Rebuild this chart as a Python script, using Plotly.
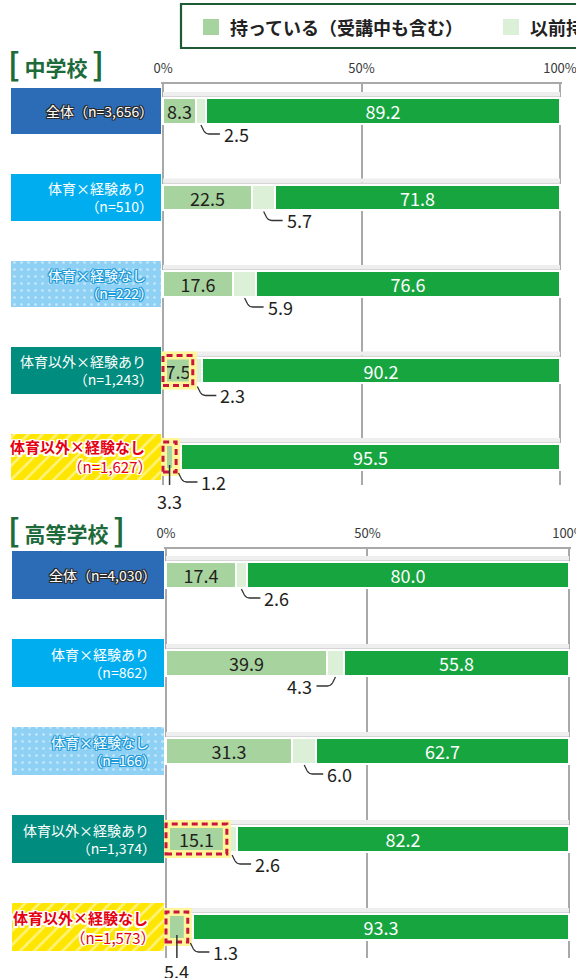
import plotly.graph_objects as go

# ---------------- data ----------------
series_names = ["持っている（受講中も含む）", "以前持っていた", "持っていない"]
groups = ["全体", "体育×経験あり", "体育×経験なし", "体育以外×経験あり", "体育以外×経験なし"]
panel_titles = ["中学校", "高等学校"]

jhs_n = ["3,656", "510", "222", "1,243", "1,627"]
jhs_have = [8.3, 22.5, 17.6, 7.5, 3.3]
jhs_before = [2.5, 5.7, 5.9, 2.3, 1.2]
jhs_never = [89.2, 71.8, 76.6, 90.2, 95.5]

hs_n = ["4,030", "862", "166", "1,374", "1,573"]
hs_have = [17.4, 39.9, 31.3, 15.1, 5.4]
hs_before = [2.6, 4.3, 6.0, 2.6, 1.3]
hs_never = [80.0, 55.8, 62.7, 82.2, 93.3]

x_ticks = [0, 50, 100]
x_tick_labels = ["0%", "50%", "100%"]

# ---------------- style ----------------
W, H = 576, 978
FONT = "Noto Sans CJK JP"
C_SERIES = ["#a7d49e", "#dcefd7", "#17a53f"]
C_TEXT = "#231f20"
GRID = "#a9a9a9"
TITLE_GREEN = "#1d6a3a"
box_colors = ["#2c6cb6", "#00aeef", "#8fd1f5", "#008c7e", "#ffe600"]
box_patterns = ["", "", ".", "", "/"]
box_pat_size = [8, 8, 7, 8, 10]
box_pat_solid = [0.2, 0.2, 0.12, 0.2, 0.25]
label_colors = ["white", "white", "white", "white", "#e50012"]
highlight = [False, False, False, True, True]
seg2_side = [["r", "r", "r", "r", "r"], ["r", "l", "r", "r", "r"]]


def outline(c, w=1):
    offs = [(w, 0), (-w, 0), (0, w), (0, -w), (w, w), (-w, -w), (w, -w), (-w, w)]
    return ", ".join(f"{dx}px {dy}px 0 {c}" for dx, dy in offs)


label_shadows = [outline("#2a2a2a"), "none", outline("#1d9ad8"), "none", outline("white", 1.5)]

panels = [
    dict(n=jhs_n, vals=[jhs_have, jhs_before, jhs_never], xd=(163, 560), yd=(84, 485),
         c0=111, c4=457, title_y=62, boxx=(11, 161), xa="x", ya="y", xl="x3"),
    dict(n=hs_n, vals=[hs_have, hs_before, hs_never], xd=(166, 569), yd=(549, 958),
         c0=575, c4=927, title_y=528, boxx=(12, 164), xa="x2", ya="y2", xl="x4"),
]


def fx(p):
    return p / W


def fy(p):
    return 1 - p / H


fig = go.Figure()
layout_axes = {}
shapes = []
annotations = []
HB = 13  # half bar height in px
PAD = 0.5  # small range padding so edge grid lines are drawn

for k, p in enumerate(panels):
    cats = [f"{g}（n={n}）" for g, n in zip(groups, p["n"])]
    have, before, never = p["vals"]
    spacing = (p["c4"] - p["c0"]) / 4
    r_top = (p["yd"][0] - p["c0"]) / spacing
    r_bot = (p["yd"][1] - p["c0"]) / spacing
    xa, ya, xl = p["xa"], p["ya"], p["xl"]
    xkey = "xaxis" if xa == "x" else "xaxis" + xa[1:]
    ykey = "yaxis" if ya == "y" else "yaxis" + ya[1:]
    xlkey = "xaxis" + xl[1:]
    px_per = (p["xd"][1] - p["xd"][0]) / 100.0
    pad_px = PAD * px_per

    # label boxes (one bar per row on their own x axis)
    for i, c in enumerate(cats):
        pat = dict(shape=box_patterns[i]) if box_patterns[i] == "" else dict(
            shape=box_patterns[i], fgcolor="white", bgcolor=box_colors[i],
            size=box_pat_size[i], solidity=box_pat_solid[i], fillmode="overlay")
        fig.add_trace(go.Bar(
            y=[c], x=[1], base=0, orientation="h", width=0.54,
            marker=dict(color=box_colors[i], line=dict(width=0), pattern=pat),
            xaxis=xl, yaxis=ya, showlegend=False, hoverinfo="skip"))

    # stacked data bars
    texts = [
        [f"{v:.1f}" if v >= 6 else "" for v in have],
        ["" for v in before],
        [f"{v:.1f}" for v in never],
    ]
    tcolors = [C_TEXT, C_TEXT, "white"]
    for name, vals, col, txt, tc in zip(series_names, p["vals"], C_SERIES, texts, tcolors):
        fig.add_trace(go.Bar(
            y=cats, x=vals, orientation="h", name=name, width=0.30,
            marker=dict(color=col, line=dict(color="white", width=2)),
            text=txt, textposition="inside", insidetextanchor="middle", textangle=0,
            constraintext="none",
            textfont=dict(size=18, color=tc, family=FONT),
            xaxis=xa, yaxis=ya, showlegend=False, hoverinfo="skip"))

    layout_axes[xkey] = dict(
        domain=[fx(p["xd"][0] - pad_px), fx(p["xd"][1] + pad_px)], range=[-PAD, 100 + PAD],
        anchor=ya, side="top", automargin=False, ticklabeloverflow="allow",
        tickvals=x_ticks, ticktext=x_tick_labels, ticks="", ticklabelstandoff=4,
        tickfont=dict(size=13, color="#3a3a3a", family=FONT),
        showgrid=True, gridcolor=GRID, gridwidth=1.5, zeroline=False,
        showline=True, linecolor=GRID, linewidth=1.5, fixedrange=True)
    layout_axes[ykey] = dict(
        domain=[fy(p["yd"][1]), fy(p["yd"][0])], type="category", automargin=False,
        categoryorder="array", categoryarray=cats, range=[r_bot, r_top],
        showticklabels=False, showgrid=False, zeroline=False, showline=False,
        anchor=xa, fixedrange=True)
    layout_axes[xlkey] = dict(
        domain=[fx(p["boxx"][0]), fx(p["boxx"][1])], range=[0, 1], anchor=ya,
        visible=False, fixedrange=True, automargin=False)

    # panel title
    annotations.append(dict(
        xref="paper", yref="paper", x=fx(6), y=fy(p["title_y"]), xanchor="left", yanchor="middle",
        text=f'<span style="font-size:31px">[</span> {panel_titles[k]} <span style="font-size:31px">]</span>',
        showarrow=False, font=dict(size=21, color=TITLE_GREEN, family=FONT, weight="bold")))

    for i, c in enumerate(cats):
        # row label text
        g, n = groups[i], p["n"][i]
        if i == 0:
            t = f"{g}（n={n}）"
        elif i == 4:
            t = f"<b>{g}</b>\u2002<br>（n={n}）"
        else:
            t = f"{g}\u2002<br>（n={n}）"
        annotations.append(dict(
            xref="paper", yref=ya, x=fx(p["boxx"][1] - 6), y=c, xanchor="right", yanchor="middle",
            text=t, align="right", showarrow=False,
            font=dict(size=14 if i < 4 else 15, color=label_colors[i], family=FONT,
                      shadow=label_shadows[i])))

        # soft shadow above each bar
        shapes.append(dict(type="rect", xref=xa, yref=ya, x0=0, x1=100, ysizemode="pixel",
                           yanchor=c, y0=HB, y1=HB + 2, fillcolor="#d6d6d6", line_width=0, layer="between"))
        shapes.append(dict(type="rect", xref=xa, yref=ya, x0=0, x1=100, ysizemode="pixel",
                           yanchor=c, y0=HB + 2, y1=HB + 6, fillcolor="#eeeeee", line_width=0, layer="between"))

        extra = 2 if highlight[i] else 0
        # highlight dashed box around first segment
        if highlight[i]:
            shapes.append(dict(type="rect", xref=xa, yref=ya, x0=0, x1=have[i], ysizemode="pixel",
                               yanchor=c, y0=-HB - 2, y1=HB + 2, fillcolor="rgba(0,0,0,0)",
                               line=dict(color="#fff59a", width=8), layer="above"))
            shapes.append(dict(type="rect", xref=xa, yref=ya, x0=0, x1=have[i], ysizemode="pixel",
                               yanchor=c, y0=-HB - 2, y1=HB + 2, fillcolor="rgba(0,0,0,0)",
                               line=dict(color="#c8163f", width=3, dash="6px,4px"), layer="above"))

        # small first segment label below
        if have[i] < 6:
            xc = have[i] / 2
            shapes.append(dict(type="line", xref=xa, yref=ya, xsizemode="pixel", xanchor=xc,
                               ysizemode="pixel", yanchor=c, x0=0, x1=0, y0=-HB + 5, y1=-HB - 22,
                               line=dict(color="#333", width=1.5), layer="above"))
            annotations.append(dict(xref=xa, yref=ya, x=xc, y=c, yshift=-(HB + 31),
                                    xanchor="center", yanchor="middle", text=f"{have[i]:.1f}",
                                    showarrow=False, font=dict(size=18, color=C_TEXT, family=FONT)))

        # second segment label with leader line
        xc = have[i] + before[i] / 2
        d = HB + 10 + extra
        s = 1 if seg2_side[k][i] == "r" else -1
        path = (f"M 0,{-HB - 1 - extra} L {3 * s},{-d + 3} Q {5 * s},{-d} {8 * s},{-d} "
                f"L {19 * s},{-d}")
        shapes.append(dict(type="path", xref=xa, yref=ya, xsizemode="pixel", xanchor=xc,
                           ysizemode="pixel", yanchor=c, path=path,
                           line=dict(color="#333", width=1.3), layer="above"))
        annotations.append(dict(xref=xa, yref=ya, x=xc, y=c, xshift=21 * s, yshift=-d,
                                xanchor="left" if s == 1 else "right", yanchor="middle",
                                text=f"{before[i]:.1f}", showarrow=False,
                                font=dict(size=18, color=C_TEXT, family=FONT)))

# ---------------- legend (drawn, partly beyond the right edge) ----------------
shapes.append(dict(type="rect", xref="paper", yref="paper", x0=fx(181), x1=fx(700),
                   y0=fy(48), y1=fy(4), fillcolor="white", line=dict(color="#1e5b35", width=2.2)))
legend_x = [203, 503, 770]
for name, col, lx in zip(series_names, C_SERIES, legend_x):
    shapes.append(dict(type="rect", xref="paper", yref="paper", x0=fx(lx), x1=fx(lx + 16),
                       y0=fy(35), y1=fy(19), fillcolor=col, line_width=0))
    annotations.append(dict(xref="paper", yref="paper", x=fx(lx + 25), y=fy(27), xanchor="left",
                            yanchor="middle", text=name, showarrow=False,
                            font=dict(size=18, color="#222", family=FONT, weight="bold")))

fig.update_layout(
    width=W, height=H, margin=dict(l=0, r=0, t=0, b=0, autoexpand=False),
    paper_bgcolor="white", plot_bgcolor="rgba(0,0,0,0)",
    barmode="stack", bargap=0, showlegend=False,
    font=dict(family=FONT),
    shapes=shapes, annotations=annotations, **layout_axes)

fig.write_html("out.html", config={"displayModeBar": False, "responsive": False},
               post_script="document.body.style.margin='0';")
